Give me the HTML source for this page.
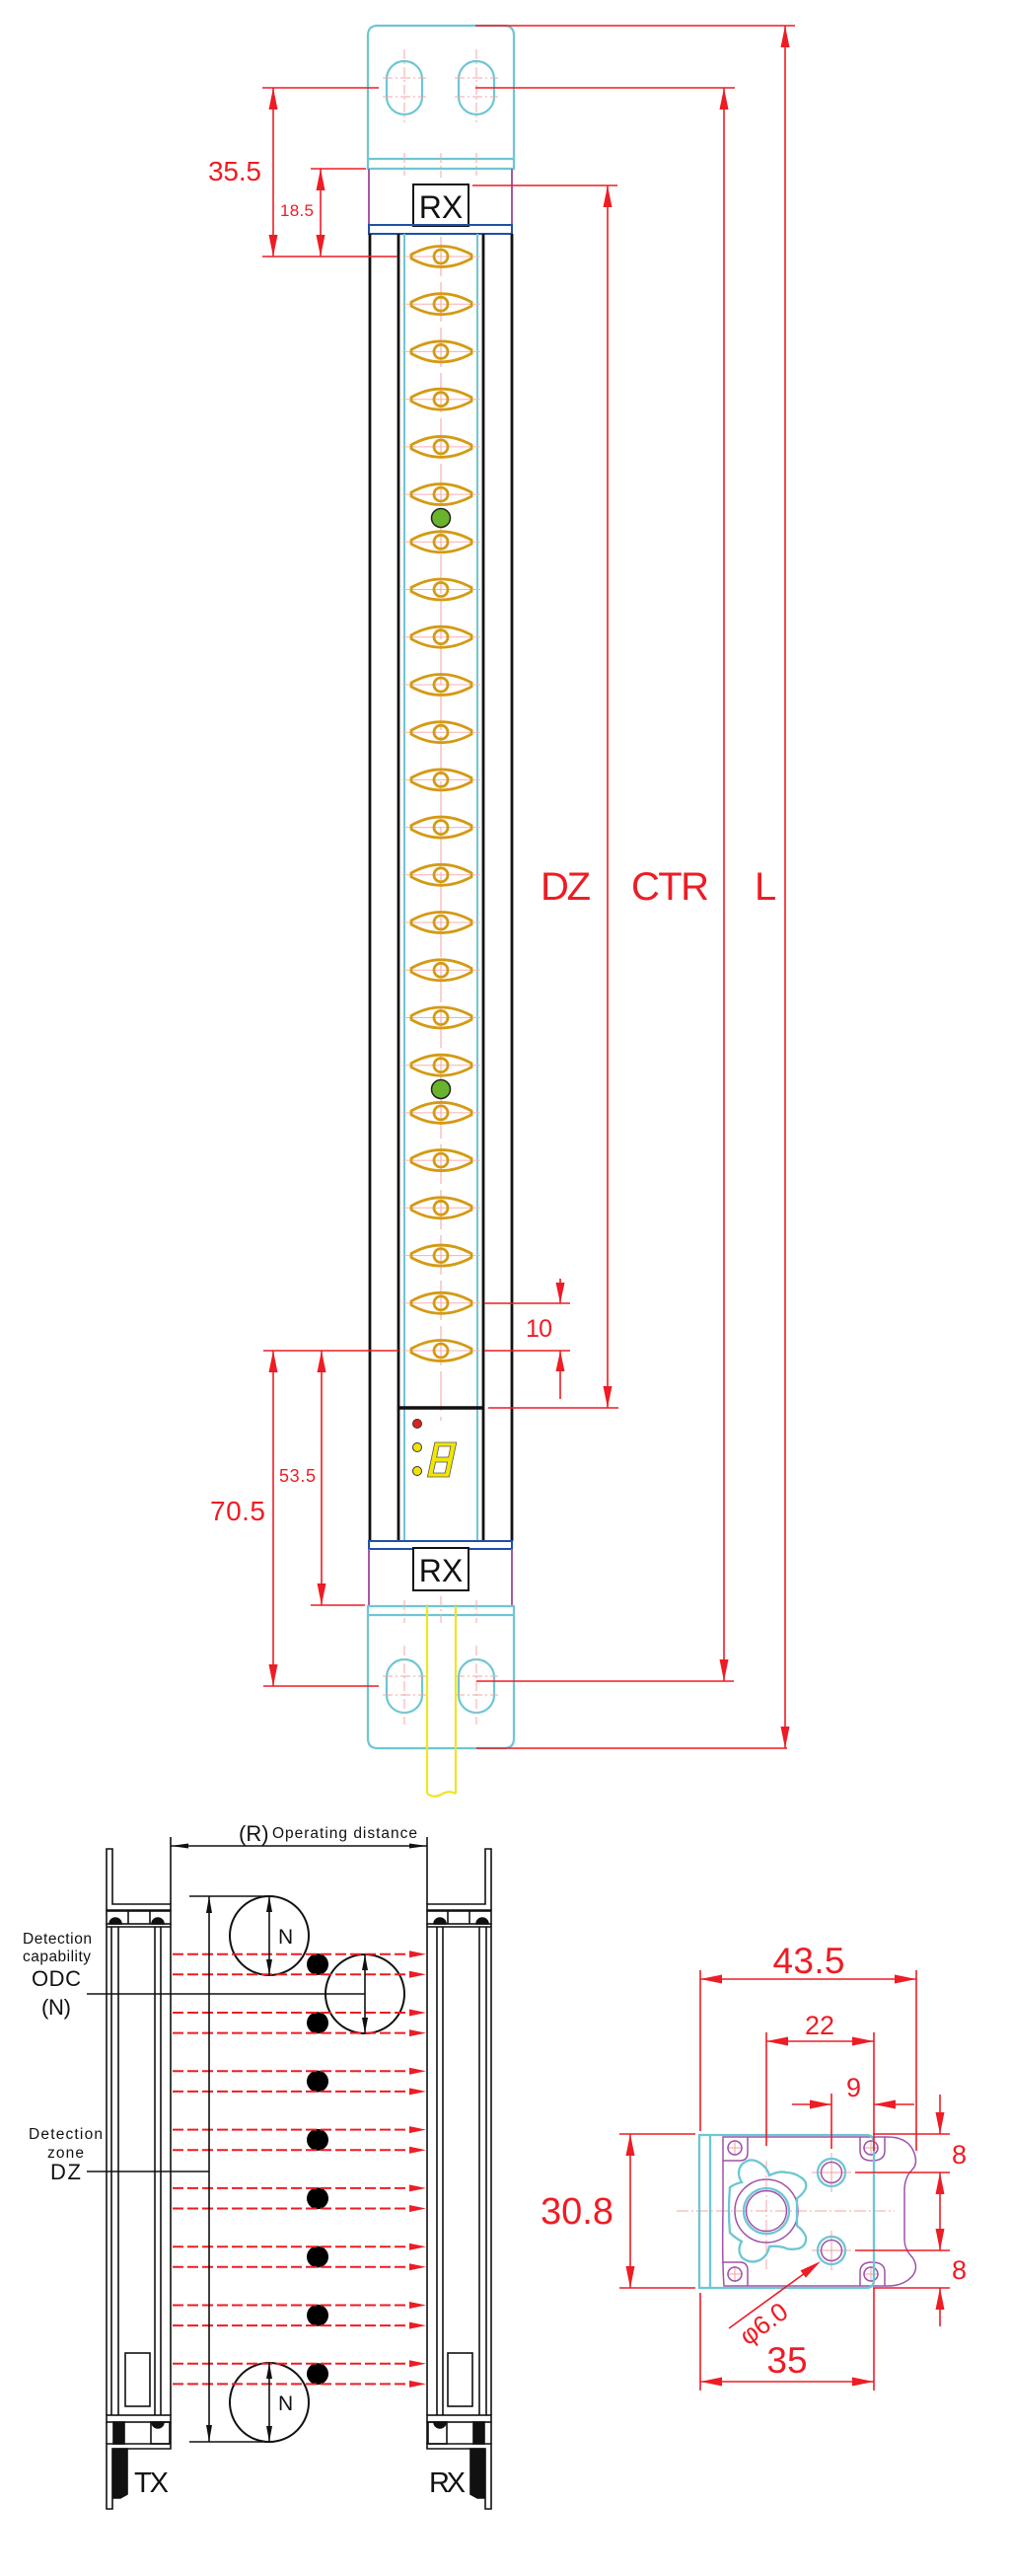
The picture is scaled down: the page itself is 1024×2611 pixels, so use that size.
<!DOCTYPE html>
<html><head><meta charset="utf-8"><style>html,body{margin:0;padding:0;background:#fff}svg{display:block}text{font-family:"Liberation Sans",Arial,sans-serif}</style></head>
<body>
<svg xmlns="http://www.w3.org/2000/svg" width="1024" height="2611" viewBox="0 0 1024 2611">
<defs>
<g id="eye"><line x1="408" y1="0" x2="487" y2="0" stroke="#f6b0b0" stroke-width="1"/><path d="M417,-2 Q447,-19 478,-2 L478,2 Q447,19 417,2 Z" fill="none" stroke="#d49a14" stroke-width="2.8"/><circle cx="447" cy="0" r="7" fill="none" stroke="#d49a14" stroke-width="2.8"/></g>
<g id="beam"><line x1="175" y1="0" x2="418" y2="0" stroke="#ee1c24" stroke-width="2" stroke-dasharray="11 4"/><polygon points="432,0 415,-3.5 415,3.5" fill="#ee1c24"/></g>
<g id="dev" fill="none" stroke="#111" stroke-width="1.6">
<path d="M108,1874 H114 V1930 H173 V1936 H108 Z"/>
<rect x="108" y="1937" width="65" height="13"/>
<line x1="130" y1="1937" x2="130" y2="1950"/><line x1="152" y1="1937" x2="152" y2="1950"/>
<path d="M111,1950 A6,6 0 0 1 123,1950 Z" fill="#111"/><path d="M154,1950 A6,6 0 0 1 166,1950 Z" fill="#111"/>
<line x1="108" y1="1953" x2="173" y2="1953"/>
<line x1="108" y1="1950" x2="108" y2="2448"/><line x1="113" y1="1953" x2="113" y2="2448"/><line x1="120" y1="1953" x2="120" y2="2448"/>
<line x1="157" y1="1953" x2="157" y2="2448"/><line x1="163" y1="1953" x2="163" y2="2448"/><line x1="173" y1="1950" x2="173" y2="2448"/>
<rect x="127" y="2385" width="25" height="54"/>
<rect x="108" y="2448" width="65" height="7"/>
<line x1="108" y1="2455" x2="108" y2="2477"/><line x1="173" y1="2455" x2="173" y2="2477"/>
<rect x="115" y="2455" width="11" height="22" fill="#111"/>
<rect x="153" y="2455" width="19" height="22"/>
<path d="M154,2455 A6,6 0 0 0 166,2455 Z" fill="#111"/>
<path d="M108,2477 H173 V2482 H114 V2543 H108 Z"/>
<path d="M115,2482 H129 V2528 L122,2532 H115 Z" fill="#111"/>
</g>
</defs>

<!-- ===== TOP DEVICE ===== -->
<g fill="none" stroke="#6ec6d4" stroke-width="2.2">
<path d="M373,171 V36 Q373,26 383,26 H511 Q521,26 521,36 V171 Z"/>
<line x1="373" y1="161" x2="521" y2="161"/>
<rect x="392" y="62" width="36" height="54" rx="18"/>
<rect x="465" y="62" width="36" height="54" rx="18"/>
</g>
<g stroke="#f5a5a5" stroke-width="1" stroke-dasharray="10 3 2 3" fill="none">
<line x1="410" y1="50" x2="410" y2="124"/><line x1="483" y1="50" x2="483" y2="124"/>
<line x1="388" y1="79" x2="432" y2="79"/><line x1="388" y1="98" x2="432" y2="98"/>
<line x1="461" y1="79" x2="505" y2="79"/><line x1="461" y1="98" x2="505" y2="98"/>
<line x1="410" y1="155" x2="410" y2="178"/><line x1="447" y1="155" x2="447" y2="180"/><line x1="483" y1="155" x2="483" y2="178"/>
</g>
<line x1="374" y1="171" x2="374" y2="228" stroke="#a55aa5" stroke-width="2"/>
<line x1="519" y1="171" x2="519" y2="228" stroke="#a55aa5" stroke-width="2"/>
<rect x="419" y="187" width="56" height="42" fill="#fff" stroke="#111" stroke-width="2"/>
<text x="447" y="221" font-size="32" text-anchor="middle" fill="#111">RX</text>
<rect x="374" y="228" width="145" height="9" fill="none" stroke="#2050a8" stroke-width="2"/>

<g stroke="#111" stroke-width="2.8">
<line x1="375" y1="237" x2="375" y2="1562"/><line x1="519" y1="237" x2="519" y2="1562"/>
<line x1="404" y1="237" x2="404" y2="1562"/><line x1="490" y1="237" x2="490" y2="1562"/>
</g>
<g stroke="#6ec6d4" stroke-width="2">
<line x1="410" y1="237" x2="410" y2="1562"/><line x1="484" y1="237" x2="484" y2="1562"/>
</g>
<line x1="447" y1="240" x2="447" y2="1440" stroke="#f5a0a0" stroke-width="1" stroke-dasharray="40 6"/>

<use href="#eye" y="260"/><use href="#eye" y="308.2"/><use href="#eye" y="356.4"/><use href="#eye" y="404.7"/>
<use href="#eye" y="452.9"/><use href="#eye" y="501.1"/><use href="#eye" y="549.3"/><use href="#eye" y="597.5"/>
<use href="#eye" y="645.7"/><use href="#eye" y="694"/><use href="#eye" y="742.2"/><use href="#eye" y="790.4"/>
<use href="#eye" y="838.6"/><use href="#eye" y="886.8"/><use href="#eye" y="935"/><use href="#eye" y="983.3"/>
<use href="#eye" y="1031.5"/><use href="#eye" y="1079.7"/><use href="#eye" y="1127.9"/><use href="#eye" y="1176.1"/>
<use href="#eye" y="1224.3"/><use href="#eye" y="1272.6"/><use href="#eye" y="1320.8"/><use href="#eye" y="1369"/>
<circle cx="447" cy="525" r="9.5" fill="#6ab42d" stroke="#222" stroke-width="1.5"/>
<circle cx="447" cy="1104" r="9.5" fill="#6ab42d" stroke="#222" stroke-width="1.5"/>

<line x1="404" y1="1427" x2="490" y2="1427" stroke="#111" stroke-width="3.5"/>
<circle cx="423" cy="1443" r="4.5" fill="#e02020" stroke="#333" stroke-width="1"/>
<circle cx="423" cy="1467" r="4.5" fill="#f2e200" stroke="#333" stroke-width="1"/>
<circle cx="423" cy="1491" r="4.5" fill="#f2e200" stroke="#333" stroke-width="1"/>
<g transform="translate(447,1480) skewX(-12) translate(-447,-1480)">
<path d="M437,1462 H459 V1497 H437 Z M442,1466 V1477 H454 V1466 Z M442,1482 V1493 H454 V1482 Z" fill="#f2e600" fill-rule="evenodd" stroke="#555" stroke-width="0.8"/>
</g>

<rect x="374" y="1562" width="145" height="8" fill="none" stroke="#2050a8" stroke-width="2"/>
<line x1="374" y1="1570" x2="374" y2="1627" stroke="#a55aa5" stroke-width="2"/>
<line x1="519" y1="1570" x2="519" y2="1627" stroke="#a55aa5" stroke-width="2"/>
<rect x="419" y="1569" width="56" height="43" fill="#fff" stroke="#111" stroke-width="2"/>
<text x="447" y="1603" font-size="32" text-anchor="middle" fill="#111">RX</text>
<g fill="none" stroke="#6ec6d4" stroke-width="2.2">
<path d="M373,1628 H521 V1762 Q521,1772 511,1772 H383 Q373,1772 373,1762 Z"/>
<line x1="373" y1="1637" x2="521" y2="1637"/>
<rect x="392" y="1682" width="36" height="54" rx="18"/>
<rect x="465" y="1682" width="36" height="54" rx="18"/>
</g>
<g stroke="#f5a5a5" stroke-width="1" stroke-dasharray="10 3 2 3" fill="none">
<line x1="410" y1="1668" x2="410" y2="1748"/><line x1="483" y1="1668" x2="483" y2="1748"/>
<line x1="388" y1="1699" x2="432" y2="1699"/><line x1="388" y1="1718" x2="432" y2="1718"/>
<line x1="461" y1="1699" x2="505" y2="1699"/><line x1="461" y1="1718" x2="505" y2="1718"/>
<line x1="410" y1="1622" x2="410" y2="1645"/><line x1="447" y1="1618" x2="447" y2="1645"/><line x1="483" y1="1622" x2="483" y2="1645"/>
</g>
<g fill="none" stroke="#eee620" stroke-width="2.2">
<line x1="433" y1="1628" x2="433" y2="1818"/><line x1="462" y1="1628" x2="462" y2="1818"/>
<path d="M433,1818 Q440,1823 447,1819 Q455,1814 462,1818"/>
</g>

<g stroke="#ee1c24" stroke-width="1.6" fill="none">
<line x1="482" y1="26" x2="806" y2="26"/><line x1="796" y1="26" x2="796" y2="1772"/><line x1="483" y1="1772" x2="798" y2="1772"/>
<line x1="482" y1="89" x2="745" y2="89"/><line x1="266" y1="89" x2="384" y2="89"/>
<line x1="734" y1="89" x2="734" y2="1704"/><line x1="483" y1="1704" x2="744" y2="1704"/>
<line x1="267" y1="1709" x2="384" y2="1709"/>
<line x1="479" y1="188" x2="626" y2="188"/><line x1="616" y1="188" x2="616" y2="1427"/><line x1="495" y1="1427" x2="627" y2="1427"/>
<line x1="277" y1="89" x2="277" y2="260"/><line x1="266" y1="260" x2="403" y2="260"/>
<line x1="325" y1="171" x2="325" y2="260"/><line x1="315" y1="171" x2="371" y2="171"/>
<line x1="277" y1="1369" x2="277" y2="1709"/>
<line x1="326" y1="1369" x2="326" y2="1627"/><line x1="315" y1="1627" x2="370" y2="1627"/>
<line x1="267" y1="1369" x2="404" y2="1369"/><line x1="491" y1="1369" x2="578" y2="1369"/>
<line x1="491" y1="1321" x2="578" y2="1321"/>
<line x1="568" y1="1296" x2="568" y2="1321"/><line x1="568" y1="1369" x2="568" y2="1418"/>
</g>
<g fill="#ee1c24">
<polygon points="796,26 791.5,48 800.5,48"/><polygon points="796,1772 791.5,1750 800.5,1750"/>
<polygon points="734,89 729.5,111 738.5,111"/><polygon points="734,1704 729.5,1682 738.5,1682"/>
<polygon points="616,188 611.5,210 620.5,210"/><polygon points="616,1427 611.5,1405 620.5,1405"/>
<polygon points="277,89 272.5,111 281.5,111"/><polygon points="277,260 272.5,238 281.5,238"/>
<polygon points="325,171 320.5,193 329.5,193"/><polygon points="325,260 320.5,238 329.5,238"/>
<polygon points="277,1369 272.5,1391 281.5,1391"/><polygon points="277,1709 272.5,1687 281.5,1687"/>
<polygon points="326,1369 321.5,1391 330.5,1391"/><polygon points="326,1627 321.5,1605 330.5,1605"/>
<polygon points="568,1321 563.5,1300 572.5,1300"/><polygon points="568,1369 563.5,1390 572.5,1390"/>
</g>
<g fill="#ee1c24">
<text x="211" y="183" font-size="28" textLength="54">35.5</text>
<text x="284" y="219" font-size="17" textLength="34">18.5</text>
<text x="213" y="1541" font-size="28" textLength="56">70.5</text>
<text x="283" y="1502" font-size="18" textLength="37">53.5</text>
<text x="533" y="1355" font-size="25" textLength="27">10</text>
<text x="548" y="912" font-size="40" textLength="51">DZ</text>
<text x="640" y="912" font-size="40" textLength="79">CTR</text>
<text x="765" y="912" font-size="40">L</text>
</g>

<!-- ===== BOTTOM LEFT DIAGRAM ===== -->
<use href="#dev"/>
<use href="#dev" transform="translate(606,0) scale(-1,1)"/>
<g stroke="#111" stroke-width="1.6">
<line x1="173" y1="1862" x2="173" y2="1930"/><line x1="433" y1="1862" x2="433" y2="1930"/>
<line x1="173" y1="1871" x2="433" y2="1871"/>
</g>
<polygon points="173,1871 191,1868.5 191,1873.5" fill="#111"/>
<polygon points="433,1871 415,1868.5 415,1873.5" fill="#111"/>
<text x="242" y="1866" font-size="22" fill="#111">(R)</text>
<text x="276" y="1863" font-size="15.5" fill="#111" textLength="147">Operating distance</text>

<g fill="#000">
<circle cx="322" cy="1991" r="11"/><circle cx="322" cy="2050.3" r="11"/><circle cx="322" cy="2109.6" r="11"/><circle cx="322" cy="2168.9" r="11"/>
<circle cx="322" cy="2228.2" r="11"/><circle cx="322" cy="2287.5" r="11"/><circle cx="322" cy="2346.8" r="11"/><circle cx="322" cy="2406.1" r="11"/>
</g>
<g fill="#fff" stroke="#111" stroke-width="2">
<circle cx="273" cy="1962" r="40"/><circle cx="370" cy="2021" r="40"/><circle cx="273" cy="2435" r="40"/>
</g>
<use href="#beam" y="1980.7"/><use href="#beam" y="2001.3"/><use href="#beam" y="2040"/><use href="#beam" y="2060.6"/>
<use href="#beam" y="2099.3"/><use href="#beam" y="2119.9"/><use href="#beam" y="2158.6"/><use href="#beam" y="2179.2"/>
<use href="#beam" y="2217.9"/><use href="#beam" y="2238.5"/><use href="#beam" y="2277.2"/><use href="#beam" y="2297.8"/>
<use href="#beam" y="2336.5"/><use href="#beam" y="2357.1"/><use href="#beam" y="2395.8"/><use href="#beam" y="2416.4"/>
<g stroke="#111" stroke-width="1.6">
<line x1="192" y1="1922" x2="273" y2="1922"/><line x1="192" y1="2475" x2="273" y2="2475"/>
<line x1="212" y1="1922" x2="212" y2="2475"/>
<line x1="273" y1="1922" x2="273" y2="2002"/><line x1="370" y1="1981" x2="370" y2="2061"/><line x1="273" y1="2395" x2="273" y2="2475"/>
<line x1="88" y1="2021" x2="370" y2="2021"/><line x1="88" y1="2201" x2="212" y2="2201"/>
</g>
<g fill="#111">
<polygon points="212,1922 209,1939 215,1939"/><polygon points="212,2475 209,2458 215,2458"/>
<polygon points="273,1922 270,1938 276,1938"/><polygon points="273,2002 270,1986 276,1986"/>
<polygon points="370,1981 367,1997 373,1997"/><polygon points="370,2061 367,2045 373,2045"/>
<polygon points="273,2395 270,2411 276,2411"/><polygon points="273,2475 270,2459 276,2459"/>
</g>
<g fill="#111">
<text x="282" y="1970" font-size="21">N</text>
<text x="282" y="2443" font-size="21">N</text>
<text x="23" y="1970" font-size="15.5" textLength="70">Detection</text>
<text x="23" y="1988" font-size="15.5" textLength="69">capability</text>
<text x="32" y="2013" font-size="22" textLength="50">ODC</text>
<text x="42" y="2042" font-size="22" textLength="30">(N)</text>
<text x="29" y="2168" font-size="15.5" textLength="75">Detection</text>
<text x="48" y="2187" font-size="15.5" textLength="37">zone</text>
<text x="51" y="2209" font-size="22" textLength="31">DZ</text>
<text x="136" y="2526" font-size="29" textLength="35">TX</text>
<text x="435" y="2526" font-size="29" textLength="37">RX</text>
</g>

<!-- ===== BOTTOM RIGHT DIAGRAM ===== -->
<g stroke="#f5a5a5" stroke-width="1" stroke-dasharray="12 3 2 3" fill="none">
<line x1="686" y1="2241" x2="907" y2="2241"/>
<line x1="777" y1="2190" x2="777" y2="2300"/>
</g>
<g stroke="#f3a0a0" stroke-width="1" fill="none">
<line x1="737" y1="2177" x2="753" y2="2177"/><line x1="745" y1="2169" x2="745" y2="2185"/>
<line x1="875" y1="2177" x2="891" y2="2177"/><line x1="883" y1="2169" x2="883" y2="2185"/>
<line x1="737" y1="2305" x2="753" y2="2305"/><line x1="745" y1="2297" x2="745" y2="2313"/>
<line x1="875" y1="2305" x2="891" y2="2305"/><line x1="883" y1="2297" x2="883" y2="2313"/>
<line x1="823" y1="2202" x2="863" y2="2202"/><line x1="843" y1="2182" x2="843" y2="2222"/>
<line x1="823" y1="2281" x2="863" y2="2281"/><line x1="843" y1="2261" x2="843" y2="2301"/>
</g>
<g fill="none" stroke="#a050a8" stroke-width="1.5">
<path d="M733,2166 H900 Q918,2166 925,2178 Q932,2192 925,2199 Q917,2207 917,2220 V2270 Q917,2280 925,2288 Q932,2298 925,2307 Q916,2317 900,2317 H734 Q732,2290 733,2241 Q733,2190 733,2166 Z"/>
<path d="M758,2166 V2182 Q758,2190 750,2190 H733"/>
<path d="M872,2166 V2180 Q872,2190 884,2190 Q897,2190 897,2180 V2166"/>
<path d="M758,2317 V2301 Q758,2293 750,2293 H733"/>
<path d="M872,2317 V2303 Q872,2293 884,2293 Q897,2293 897,2303 V2317"/>
<circle cx="745" cy="2177" r="7"/><circle cx="883" cy="2177" r="7"/>
<circle cx="745" cy="2305" r="7"/><circle cx="883" cy="2305" r="7"/>
<circle cx="843" cy="2202" r="10.5"/><circle cx="843" cy="2281" r="10.5"/>
<circle cx="777" cy="2241" r="32"/><circle cx="777" cy="2241" r="20.5"/>
</g>
<g fill="none" stroke="#6ec6d4" stroke-width="2.3">
<path d="M709,2164 H878 Q886,2164 886,2172 V2311 Q886,2319 878,2319 H709 Z"/>
<line x1="720" y1="2164" x2="720" y2="2319"/>
<circle cx="843" cy="2202" r="14"/><circle cx="843" cy="2281" r="14"/>
<circle cx="777" cy="2241" r="23"/>
<path d="M740,2263 Q738,2240 740,2217 Q746,2213 752,2212 Q746,2202 752,2194 Q760,2186 770,2192 Q778,2197 780,2205 Q790,2200 797,2202 Q805,2202 812,2207 Q820,2212 816,2220 Q812,2226 808,2228 Q808,2241 808,2256 Q814,2260 817,2267 Q818,2276 810,2279 Q800,2281 795,2278 Q787,2276 780,2277 Q778,2287 770,2291 Q760,2295 752,2288 Q747,2280 752,2272 Q745,2268 740,2263 Z"/>
</g>
<g stroke="#ee1c24" stroke-width="1.6" fill="none">
<line x1="710" y1="2006" x2="929" y2="2006"/>
<line x1="710" y1="1997" x2="710" y2="2160"/><line x1="929" y1="1997" x2="929" y2="2180"/>
<line x1="777" y1="2069" x2="886" y2="2069"/>
<line x1="777" y1="2060" x2="777" y2="2175"/><line x1="886" y1="2060" x2="886" y2="2180"/>
<line x1="803" y1="2133" x2="843" y2="2133"/><line x1="886" y1="2133" x2="927" y2="2133"/>
<line x1="843" y1="2122" x2="843" y2="2178"/>
<line x1="953" y1="2123" x2="953" y2="2163"/>
<line x1="885" y1="2163" x2="963" y2="2163"/><line x1="867" y1="2202" x2="963" y2="2202"/>
<line x1="953" y1="2202" x2="953" y2="2281"/>
<line x1="867" y1="2281" x2="963" y2="2281"/><line x1="885" y1="2319" x2="963" y2="2319"/>
<line x1="953" y1="2319" x2="953" y2="2358"/>
<line x1="639" y1="2163" x2="639" y2="2319"/>
<line x1="628" y1="2163" x2="705" y2="2163"/><line x1="628" y1="2319" x2="705" y2="2319"/>
<line x1="710" y1="2414" x2="886" y2="2414"/>
<line x1="710" y1="2324" x2="710" y2="2423"/><line x1="886" y1="2319" x2="886" y2="2423"/>
<line x1="739" y1="2360" x2="816" y2="2304"/>
</g>
<g fill="#ee1c24">
<polygon points="710,2006 732,2001.5 732,2010.5"/><polygon points="929,2006 907,2001.5 907,2010.5"/>
<polygon points="777,2069 799,2064.5 799,2073.5"/><polygon points="886,2069 864,2064.5 864,2073.5"/>
<polygon points="843,2133 821,2128.5 821,2137.5"/><polygon points="886,2133 908,2128.5 908,2137.5"/>
<polygon points="953,2163 948.5,2141 957.5,2141"/><polygon points="953,2202 948.5,2224 957.5,2224"/>
<polygon points="953,2281 948.5,2259 957.5,2259"/><polygon points="953,2319 948.5,2341 957.5,2341"/>
<polygon points="639,2163 634.5,2185 643.5,2185"/><polygon points="639,2319 634.5,2297 643.5,2297"/>
<polygon points="710,2414 732,2409.5 732,2418.5"/><polygon points="886,2414 864,2409.5 864,2418.5"/>
<polygon points="832,2292 816.9,2308.6 811.5,2301.4"/>
</g>
<g fill="#ee1c24">
<text x="820" y="2000" font-size="37" text-anchor="middle" textLength="73">43.5</text>
<text x="831" y="2062" font-size="27" text-anchor="middle">22</text>
<text x="858" y="2125" font-size="27">9</text>
<text x="965" y="2193" font-size="27">8</text>
<text x="965" y="2310" font-size="27">8</text>
<text x="622" y="2254" font-size="38" text-anchor="end" textLength="74">30.8</text>
<text x="798" y="2405" font-size="37" text-anchor="middle">35</text>
<text x="758" y="2378" font-size="26" transform="rotate(-36 758 2378)">φ6.0</text>
</g>
</svg>
</body></html>
